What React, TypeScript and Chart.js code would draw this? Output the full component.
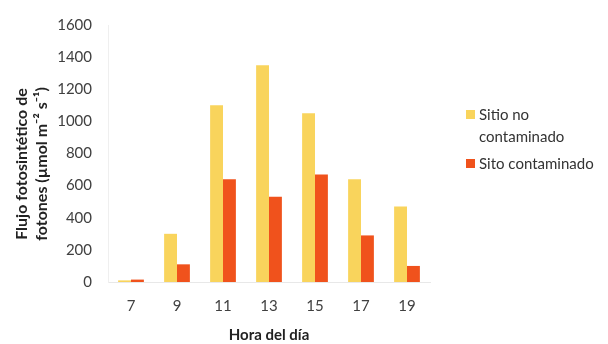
import React, { useEffect, useRef } from "react";
import { Chart, registerables } from "chart.js";

Chart.register(...registerables);

const hours = ["7", "9", "11", "13", "15", "17", "19"];
const noContaminado = [10, 300, 1100, 1350, 1050, 640, 470];
const contaminado = [15, 110, 640, 530, 670, 290, 100];
const seriesLabels = ["Sitio no contaminado", "Sito contaminado"];
const legendLines = [["Sitio no", "contaminado"], ["Sito contaminado"]];
const yTitle = ["Flujo fotosintético de", "fotones (µmol m⁻² s⁻¹)"];
const xTitle = "Hora del día";

const YELLOW = "#F9D45C";
const RED = "#F0521C";
const FONT = "Lato, 'Open Sans', sans-serif";

const legendPlugin = {
  id: "sideLegend",
  afterDraw(chart: any) {
    const ctx = chart.ctx;
    ctx.save();
    ctx.font = `15px ${FONT}`;
    ctx.textBaseline = "middle";
    const bx = 466;
    const tx = 479;
    let y = 115;
    chart.data.datasets.forEach((ds: any, i: number) => {
      ctx.fillStyle = ds.backgroundColor;
      ctx.fillRect(bx, y - 5, 9, 9);
      ctx.fillStyle = "#333";
      legendLines[i].forEach((line: string, j: number) => {
        ctx.fillText(line, tx, y + j * 22);
      });
      y += (legendLines[i].length - 1) * 22 + 27;
    });
    ctx.restore();
  },
};

const yTitlePlugin = {
  id: "yTitle",
  afterDraw(chart: any) {
    const ctx = chart.ctx;
    ctx.save();
    ctx.font = `bold 16px ${FONT}`;
    ctx.fillStyle = "#222";
    ctx.textAlign = "center";
    ctx.textBaseline = "middle";
    yTitle.forEach((line: string, i: number) => {
      ctx.save();
      ctx.translate(22 + i * 20, 164);
      ctx.rotate(-Math.PI / 2);
      ctx.fillText(line, 0, 0);
      ctx.restore();
    });
    ctx.restore();
  },
};

export default function App() {
  const ref = useRef<HTMLCanvasElement | null>(null);
  useEffect(() => {
    if (!ref.current) return;
    const chart = new Chart(ref.current, {
      type: "bar",
      data: {
        labels: hours,
        datasets: [
          { label: seriesLabels[0], data: noContaminado, backgroundColor: YELLOW },
          { label: seriesLabels[1], data: contaminado, backgroundColor: RED },
        ],
      },
      options: {
        responsive: false,
        animation: false,
        layout: { padding: { top: 24, right: 178, left: 0, bottom: 0 } },
        datasets: {
          bar: { categoryPercentage: 0.56, barPercentage: 1 },
        },
        plugins: {
          legend: { display: false },
          tooltip: { enabled: false },
        },
        scales: {
          x: {
            grid: { display: false, drawTicks: false },
            border: { display: true, color: "#e8e8e8" },
            ticks: { padding: 15, color: "#404040", font: { family: FONT, size: 15 } },
            title: {
              display: true,
              text: xTitle,
              color: "#222",
              font: { family: FONT, size: 15, weight: "bold" },
              padding: { top: 11, bottom: 0 },
            },
            afterFit(scale: any) {
              scale.height = 62;
            },
          },
          y: {
            min: 0,
            max: 1600,
            grid: { display: false, drawTicks: false },
            border: { display: true, color: "#efefef" },
            ticks: {
              stepSize: 200,
              padding: 16,
              color: "#404040",
              font: { family: FONT, size: 15 },
              callback: (v: any) => String(v),
            },
            afterFit(scale: any) {
              scale.width = 108;
            },
          },
        },
      },
      plugins: [legendPlugin, yTitlePlugin],
    });
    return () => chart.destroy();
  }, []);
  return (
    <div style={{ position: "fixed", left: 0, top: 0, width: 608, height: 344, background: "#fff" }}>
      <canvas ref={ref} width={608} height={344} />
    </div>
  );
}
